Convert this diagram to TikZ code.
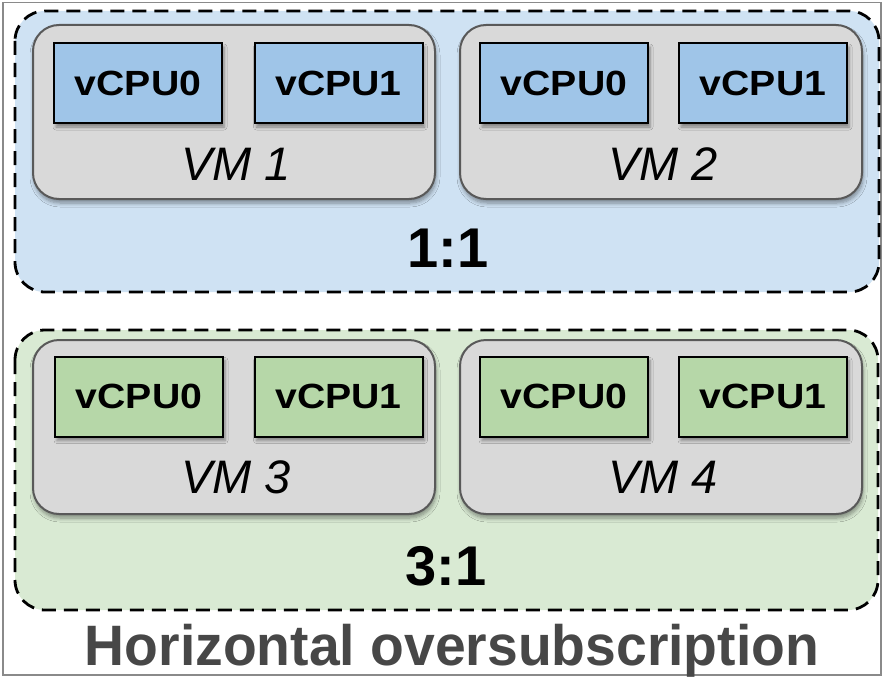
\documentclass[tikz,border=0pt]{standalone}
\usepackage{fontspec}
\usepackage{graphicx}
\setmainfont{Liberation Sans}
\usetikzlibrary{shadows.blur}

\definecolor{regionblue}{HTML}{CFE2F3}
\definecolor{regiongreen}{HTML}{D9EAD3}
\definecolor{cpublue}{HTML}{9FC5E8}
\definecolor{cpugreen}{HTML}{B6D7A8}
\definecolor{vmfill}{HTML}{D9D9D9}
\definecolor{vmline}{HTML}{595959}
\definecolor{titlegray}{HTML}{474747}
\definecolor{framegray}{HTML}{8A8A8A}

\newcommand{\cpulabel}[1]{\scalebox{1.12}[1]{#1}}

\begin{document}
\begin{tikzpicture}[x=1pt,y=-1pt,
  region/.style={draw=black, line width=2.8pt, dash pattern=on 14pt off 8pt,
    rounded corners=30pt},
  vmbox/.style={draw=vmline, fill=vmfill, line width=2pt, rounded corners=26pt,
    minimum width=402pt, minimum height=174pt, inner sep=0pt,
    blur shadow={shadow xshift=1pt, shadow yshift=-4pt, shadow blur steps=6,
      shadow blur radius=4pt, shadow opacity=40}},
  cpubox/.style={draw=black, line width=2pt, minimum width=168pt,
    minimum height=80pt, inner sep=0pt,
    font=\fontsize{35}{40}\selectfont\bfseries,
    blur shadow={shadow xshift=2pt, shadow yshift=-4pt, shadow blur steps=5,
      shadow blur radius=3pt, shadow opacity=40}},
  cpuA/.style={cpubox, fill=cpublue},
  cpuB/.style={cpubox, fill=cpugreen},
  vmlabel/.style={anchor=base, inner sep=0pt, font=\fontsize{47}{52}\selectfont\itshape},
  ratio/.style={anchor=base, inner sep=0pt, font=\fontsize{56}{60}\selectfont\bfseries},
  title/.style={anchor=base, inner sep=0pt, text=titlegray,
    font=\fontsize{57}{60}\selectfont\bfseries}
]
\useasboundingbox (0,0) rectangle (883,677);

% outer frame
\draw[framegray, line width=1.6pt] (3,2.5) rectangle (881,675);

% the two groups
\draw[region, fill=regionblue] (15,11) rectangle (879,292);
\draw[region, fill=regiongreen] (15,330) rectangle (878,610);

% virtual machines
\node[vmbox] (vm1) at (234,112) {};
\node[vmbox] (vm2) at (661,112) {};
\node[vmbox] (vm3) at (234,427) {};
\node[vmbox] (vm4) at (661,427) {};

% virtual CPUs
\node[cpuA] (c10) at (138,83) {\cpulabel{vCPU0}};
\node[cpuA] (c11) at (338.5,83) {\cpulabel{vCPU1}};
\node[cpuA] (c20) at (564,83) {\cpulabel{vCPU0}};
\node[cpuA] (c21) at (763,83) {\cpulabel{vCPU1}};
\node[cpuB] (c30) at (139,396.5) {\cpulabel{vCPU0}};
\node[cpuB] (c31) at (338.5,396.5) {\cpulabel{vCPU1}};
\node[cpuB] (c40) at (564,396.5) {\cpulabel{vCPU0}};
\node[cpuB] (c41) at (763,396.5) {\cpulabel{vCPU1}};

% machine names
\node[vmlabel] (l1) at (236,180) {VM 1};
\node[vmlabel] (l2) at (663,180) {VM 2};
\node[vmlabel] (l3) at (236,493) {VM 3};
\node[vmlabel] (l4) at (663,493) {VM 4};

% ratios
\node[ratio] (r1) at (448,267) {1:1};
\node[ratio] (r2) at (446,585) {3:1};

% caption
\node[title] (cap) at (452,665) {\scalebox{0.97}[1]{Horizontal oversubscription}};
\end{tikzpicture}
\end{document}
